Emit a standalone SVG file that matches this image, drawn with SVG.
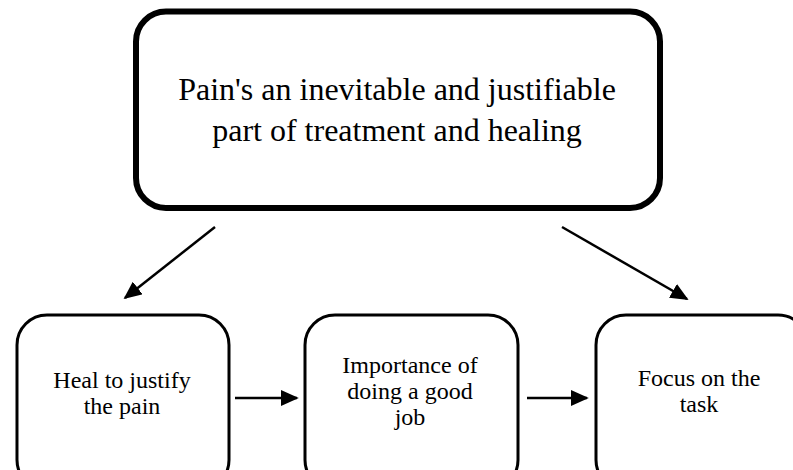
<svg xmlns="http://www.w3.org/2000/svg" width="793" height="470" viewBox="0 0 793 470">
  <style>
    .box { fill: #ffffff; stroke: #000000; }
    .main { stroke-width: 6; }
    .sub { stroke-width: 3; }
    .label { fill: #000000; text-anchor: middle; }
    .big { font-size: 32px; }
    .small { font-size: 24px; }
    .edge { stroke: #000000; stroke-width: 2.5; fill: none; marker-end: url(#head); }
  </style>
  <defs>
    <marker id="head" viewBox="0 0 10 10" refX="9" refY="5" markerWidth="18" markerHeight="16" markerUnits="userSpaceOnUse" orient="auto" preserveAspectRatio="none">
      <path d="M0,0 L10,5 L0,10 Z" fill="#000000"/>
    </marker>
  </defs>
  <rect width="793" height="470" fill="#ffffff"/>

  <g font-family="Liberation Serif, Times New Roman, serif">
    <g id="node-pain">
      <rect class="box main" x="136" y="11.5" width="524" height="196.5" rx="30" ry="30"/>
      <text class="label big" x="397" y="100">Pain's an inevitable and justifiable</text>
      <text class="label big" x="397" y="141">part of treatment and healing</text>
    </g>

    <g id="node-heal">
      <rect class="box sub" x="17" y="315" width="212" height="175" rx="30" ry="30"/>
      <text class="label small" x="122" y="388">Heal to justify</text>
      <text class="label small" x="122" y="414">the pain</text>
    </g>

    <g id="node-importance">
      <rect class="box sub" x="305" y="315" width="213" height="175" rx="30" ry="30"/>
      <text class="label small" x="410" y="373">Importance of</text>
      <text class="label small" x="410" y="399">doing a good</text>
      <text class="label small" x="410" y="425">job</text>
    </g>

    <g id="node-focus">
      <rect class="box sub" x="596" y="315" width="212" height="175" rx="30" ry="30"/>
      <text class="label small" x="699" y="386">Focus on the</text>
      <text class="label small" x="699" y="412">task</text>
    </g>
  </g>

  <g id="connectors">
    <line class="edge" x1="215" y1="227" x2="125" y2="298"/>
    <line class="edge" x1="562" y1="227" x2="687" y2="299"/>
    <line class="edge" x1="235" y1="398" x2="297" y2="398"/>
    <line class="edge" x1="527" y1="398" x2="587" y2="398"/>
  </g>
</svg>
